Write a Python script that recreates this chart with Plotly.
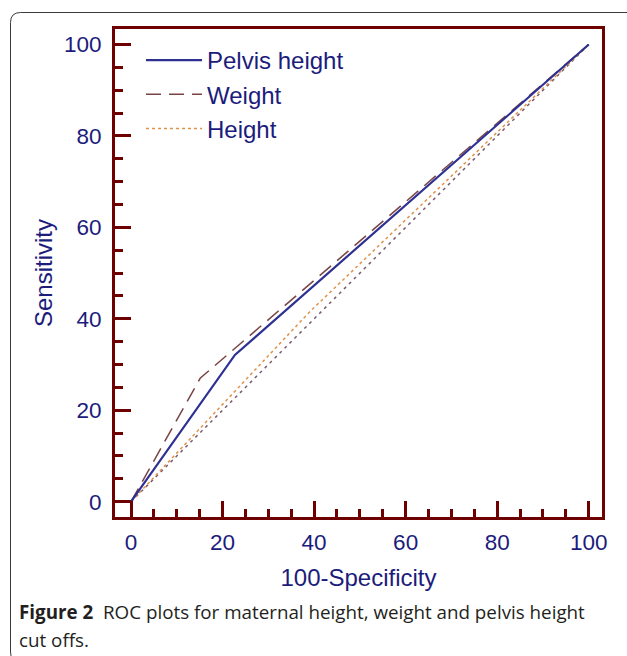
import plotly.graph_objects as go

# ---- data ----
pelvis_x = [0, 22.7, 100]
pelvis_y = [0, 32.1, 100]
weight_x = [0, 15.1, 100]
weight_y = [0, 27.0, 100]
height_x = [0, 39.0, 100]
height_y = [0, 41.5, 100]
diag_x = [0, 100]
diag_y = [0, 100]

x_ticks = [0, 20, 40, 60, 80, 100]
y_ticks = [0, 20, 40, 60, 80, 100]

W, H = 627, 656
ML, MR, MT, MB = 115, 25, 29, 139
PW, PH = W - ML - MR, H - MT - MB

def px(x):
    return (x - ML) / PW

def py(y):
    return (H - MB - y) / PH

AX = "#6e0000"
NAVY = "#1c1c7c"
FONT = "Liberation Sans, Arial, sans-serif"

fig = go.Figure()
fig.add_trace(go.Scatter(x=diag_x, y=diag_y, mode="lines", showlegend=False,
                         line=dict(color="#7a5a70", width=1.5, dash="3px,4px")))
fig.add_trace(go.Scatter(x=height_x, y=height_y, mode="lines", name="Height",
                         legendgroup="c", legendrank=3,
                         line=dict(color="#e0924a", width=1.5, dash="3px,3px")))
fig.add_trace(go.Scatter(x=weight_x, y=weight_y, mode="lines", name="Weight",
                         legendgroup="b", legendrank=2,
                         line=dict(color="#7a4444", width=1.5, dash="15px,8px")))
fig.add_trace(go.Scatter(x=pelvis_x, y=pelvis_y, mode="lines", name="Pelvis height",
                         legendgroup="a", legendrank=1,
                         line=dict(color="#2e3192", width=2.2)))

axis_common = dict(
    showgrid=False, zeroline=False, showline=True, linecolor=AX, linewidth=3,
    mirror=True, ticks="inside", ticklen=16, tickwidth=3, tickcolor=AX,
    tickfont=dict(family=FONT, size=22.5, color=NAVY),
    minor=dict(ticks="inside", ticklen=8, tickwidth=2.5, tickcolor=AX, dtick=5),
)
fig.update_xaxes(range=[-3.5, 102.9], tickvals=x_ticks, ticklabelstandoff=3,
                 title=dict(text="100-Specificity", standoff=16,
                            font=dict(family=FONT, size=24, color=NAVY)),
                 **axis_common)
fig.update_yaxes(range=[-3.35, 103.4], tickvals=y_ticks, ticklabelstandoff=6,
                 title=dict(text="Sensitivity", standoff=5,
                            font=dict(family=FONT, size=24, color=NAVY)),
                 **axis_common)

# outer rounded border of the figure panel
x0, y0, x1, y1, r = px(10.5), py(12.5), px(645), py(662), 10
rx, ry = r / PW, r / PH
path = (f"M {x1},{y0} L {x0+rx},{y0} Q {x0},{y0} {x0},{y0-ry} "
        f"L {x0},{y1+ry} Q {x0},{y1} {x0+rx},{y1} L {x1},{y1}")
fig.add_shape(type="path", path=path, xref="paper", yref="paper",
              line=dict(color="#3a3a3a", width=1))

cap_font = dict(family="Open Sans, sans-serif", size=18.8, color="#231f20")
fig.add_annotation(x=px(17), y=py(612), xref="paper", yref="paper",
                   xanchor="left", yanchor="middle", showarrow=False,
                   text="<b>Figure 2</b>  ROC plots for maternal height, weight and pelvis height",
                   font=cap_font)
fig.add_annotation(x=px(17), y=py(640), xref="paper", yref="paper",
                   xanchor="left", yanchor="middle", showarrow=False,
                   text="cut offs.", font=cap_font)

fig.update_layout(
    width=W, height=H, margin=dict(l=ML, r=MR, t=MT, b=MB),
    paper_bgcolor="white", plot_bgcolor="white",
    legend=dict(x=px(141), y=py(38), xanchor="left", yanchor="top",
                bgcolor="rgba(0,0,0,0)", tracegroupgap=0, itemwidth=56,
                font=dict(family=FONT, size=24, color=NAVY)),
)

fig.write_html("out.html", config={"displayModeBar": False},
               post_script="document.body.style.margin='0px';")
